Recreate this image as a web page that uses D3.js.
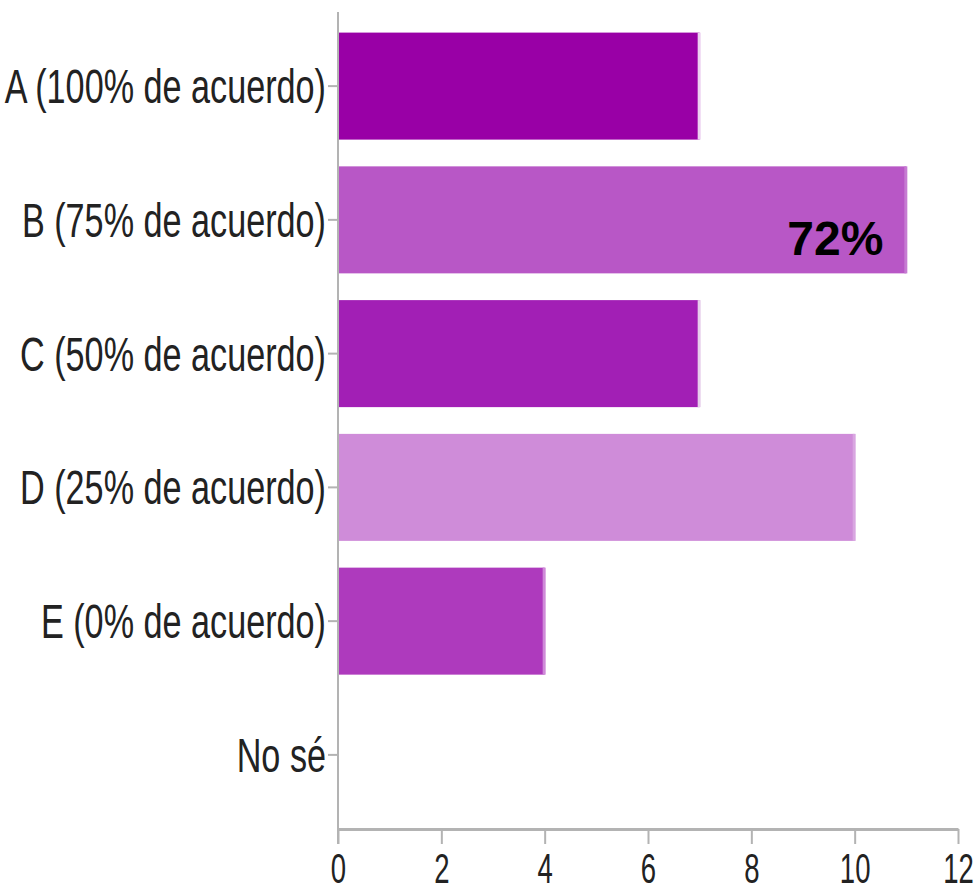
<!DOCTYPE html>
<html><head><meta charset="utf-8">
<script src="https://cdn.jsdelivr.net/npm/d3@7"></script>
<style>html,body{margin:0;padding:0;background:#fff;}svg{display:block;}</style>
</head><body>
<script>
const categories = ["A (100% de acuerdo)", "B (75% de acuerdo)", "C (50% de acuerdo)", "D (25% de acuerdo)", "E (0% de acuerdo)", "No sé"];
const values = [7, 11, 7, 10, 4, 0];
const barColors = ["#9900a6", "#b857c6", "#a21fb5", "#cf8cd9", "#ae3abd", "#b857c6"];
const edgeColors = ["#ecd0f0", "#c67bd2", "#e6cdeb", "#d9a6e1", "#cf8ad8", "#c67bd2"];
const xTicks = [0, 2, 4, 6, 8, 10, 12];
const annotation = {category: "B (75% de acuerdo)", text: "72%"};

const W = 977, H = 892;
const svg = d3.select("body").append("svg").attr("width", W).attr("height", H);

const x = d3.scaleLinear().domain([0, 12]).range([338, 958]);
const y = d3.scaleBand().domain(categories).range([12, 829]).paddingInner(0.2).paddingOuter(0.154);

const axisColor = "#b3b3b3";
const textColor = "#222";
const sx = 0.72;

// bars
const bars = svg.append("g");
categories.forEach((c, i) => {
  if (values[i] <= 0) return;
  bars.append("rect").attr("x", x(0) + 1).attr("y", y(c))
    .attr("width", x(values[i]) - x(0) - 1).attr("height", y.bandwidth())
    .attr("fill", barColors[i]);
  bars.append("rect").attr("x", x(values[i]) - 2).attr("y", y(c))
    .attr("width", 3).attr("height", y.bandwidth())
    .attr("fill", edgeColors[i]);
});

// left axis
const gy = svg.append("g").attr("transform", `translate(${x(0)},0)`)
  .call(d3.axisLeft(y).tickSize(10).tickPadding(0));
gy.select(".domain").remove();
gy.selectAll(".tick line").attr("stroke", axisColor).attr("stroke-width", 2);
gy.selectAll(".tick text")
  .attr("font-family", "'Liberation Sans', Arial, sans-serif")
  .attr("font-size", 47.5).attr("fill", textColor)
  .attr("x", -12 / sx).attr("dy", "0.36em")
  .attr("transform", `scale(${sx},1)`);

// bottom axis
const gx = svg.append("g").attr("transform", `translate(0,829)`)
  .call(d3.axisBottom(x).tickValues(xTicks).tickSize(15).tickPadding(0).tickSizeOuter(0));
gx.select(".domain").attr("stroke", axisColor).attr("stroke-width", 3);
gx.selectAll(".tick line").attr("stroke", axisColor).attr("stroke-width", 2);
gx.selectAll(".tick text")
  .attr("font-family", "'Liberation Sans', Arial, sans-serif")
  .attr("font-size", 43).attr("fill", textColor)
  .attr("y", 54).attr("dy", 0)
  .attr("transform", `scale(0.64,1)`);

// vertical axis line
svg.append("line").attr("x1", x(0)).attr("x2", x(0)).attr("y1", 12).attr("y2", 844)
  .attr("stroke", axisColor).attr("stroke-width", 2);

// annotation
const ai = categories.indexOf(annotation.category);
svg.append("text")
  .attr("x", x(values[ai]) - 23)
  .attr("y", y(annotation.category) + y.bandwidth() - 18)
  .attr("text-anchor", "end")
  .attr("font-family", "'Liberation Sans', Arial, sans-serif")
  .attr("font-weight", "bold").attr("font-size", 48).attr("fill", "#000")
  .text(annotation.text);
</script>
</body></html>
